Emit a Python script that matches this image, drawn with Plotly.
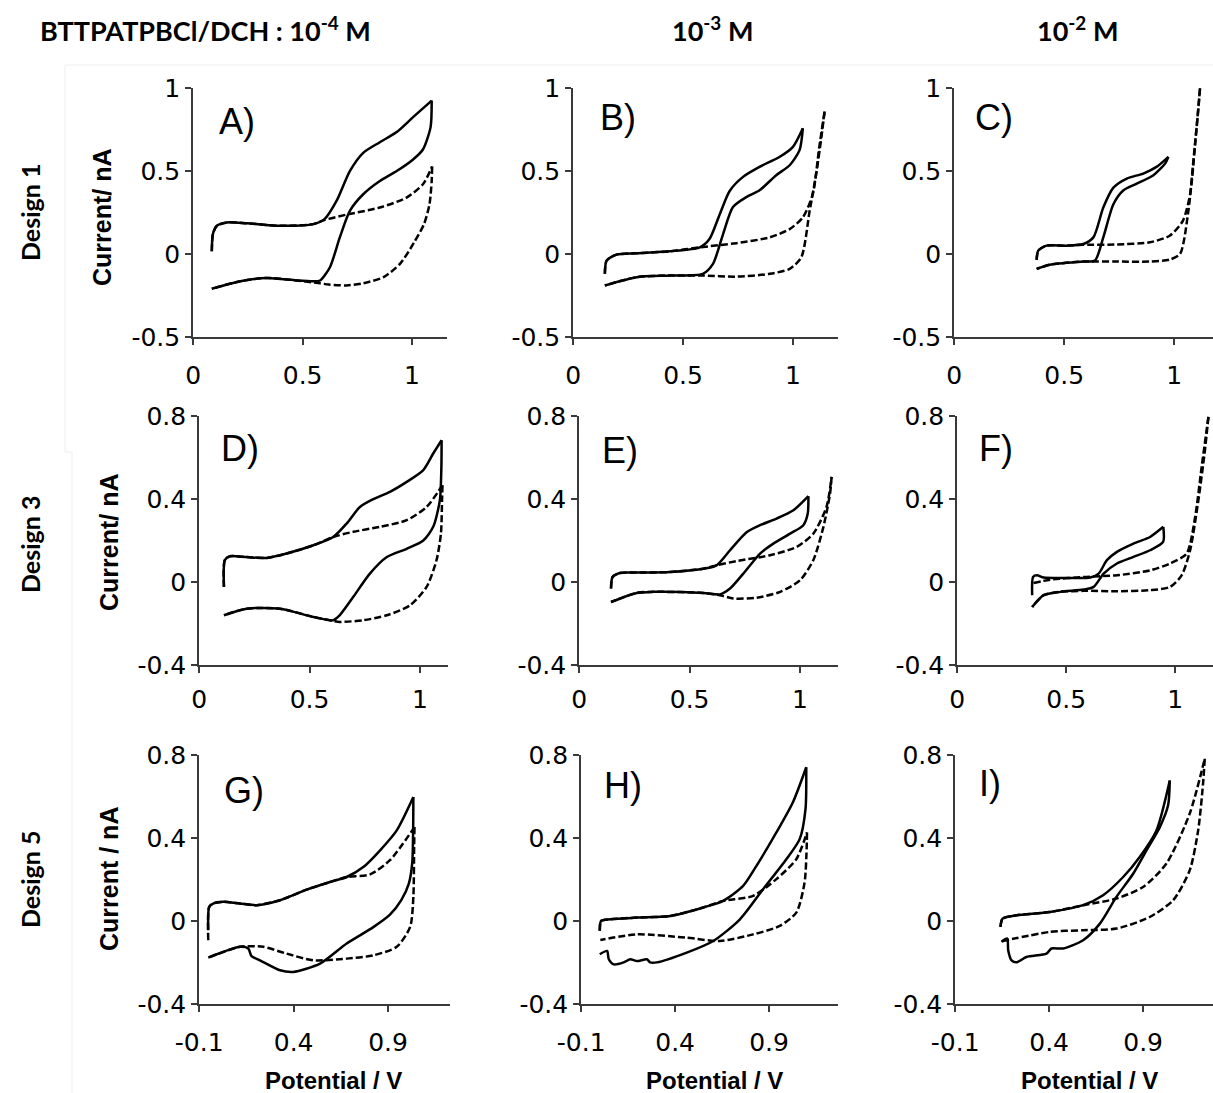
import plotly.graph_objects as go
import numpy as np

# ---------------- data ----------------
# Design 1, 1e-4 M
A_solid_x = [0.085, 0.09, 0.108, 0.154, 0.245, 0.397, 0.549, 0.60, 0.655, 0.716, 0.777, 0.853, 0.93, 1.005, 1.09,
             1.085, 1.05, 1.005, 0.93, 0.853, 0.777, 0.716, 0.67, 0.625, 0.58, 0.55, 0.473, 0.336, 0.215, 0.085]
A_solid_y = [0.016, 0.12, 0.17, 0.19, 0.185, 0.17, 0.18, 0.21, 0.32, 0.50, 0.61, 0.674, 0.735, 0.825, 0.925,
             0.765, 0.63, 0.57, 0.50, 0.44, 0.36, 0.26, 0.10, -0.08, -0.16, -0.165, -0.16, -0.145, -0.165, -0.21]
A_dash_x = [0.085, 0.09, 0.108, 0.154, 0.245, 0.397, 0.549, 0.60, 0.70, 0.853, 0.975, 1.05, 1.092,
            1.09, 1.08, 1.055, 1.01, 0.945, 0.87, 0.777, 0.70, 0.62, 0.58, 0.473, 0.336, 0.215, 0.085]
A_dash_y = [0.016, 0.12, 0.17, 0.19, 0.185, 0.17, 0.18, 0.205, 0.237, 0.28, 0.34, 0.42, 0.527,
            0.44, 0.30, 0.18, 0.07, -0.06, -0.14, -0.177, -0.19, -0.185, -0.177, -0.16, -0.145, -0.165, -0.21]

# Design 1, 1e-3 M
B_solid_x = [0.144, 0.152, 0.197, 0.288, 0.44, 0.576, 0.62, 0.667, 0.712, 0.773, 0.848, 0.94, 1.0, 1.045,
             1.03, 0.985, 0.924, 0.848, 0.788, 0.727, 0.682, 0.636, 0.59, 0.44, 0.288, 0.144]
B_solid_y = [-0.12, -0.04, -0.004, 0.004, 0.016, 0.04, 0.09, 0.24, 0.38, 0.465, 0.525, 0.586, 0.646, 0.758,
             0.626, 0.535, 0.475, 0.384, 0.343, 0.283, 0.12, -0.06, -0.12, -0.13, -0.14, -0.19]
B_dash_x = [0.144, 0.152, 0.197, 0.288, 0.44, 0.576, 0.742, 0.894, 0.985, 1.045, 1.09, 1.12, 1.144,
            1.13, 1.106, 1.076, 1.038, 0.985, 0.894, 0.742, 0.59, 0.44, 0.288, 0.144]
B_dash_y = [-0.12, -0.04, -0.004, 0.004, 0.016, 0.04, 0.065, 0.10, 0.15, 0.22, 0.36, 0.646, 0.86,
            0.71, 0.485, 0.26, -0.02, -0.09, -0.12, -0.137, -0.13, -0.13, -0.14, -0.19]

# Design 1, 1e-2 M
C_solid_x = [0.375, 0.382, 0.42, 0.51, 0.587, 0.633, 0.678, 0.724, 0.785, 0.86, 0.92, 0.974,
             0.959, 0.906, 0.83, 0.77, 0.724, 0.678, 0.64, 0.587, 0.435, 0.375]
C_solid_y = [-0.036, 0.02, 0.05, 0.05, 0.06, 0.10, 0.28, 0.40, 0.455, 0.485, 0.525, 0.586,
             0.545, 0.475, 0.424, 0.384, 0.30, 0.10, -0.04, -0.046, -0.065, -0.09]
C_dash_x = [0.375, 0.382, 0.42, 0.51, 0.587, 0.739, 0.89, 0.98, 1.04, 1.073, 1.096, 1.118,
            1.11, 1.088, 1.065, 1.027, 0.98, 0.89, 0.74, 0.617, 0.587, 0.435, 0.375]
C_dash_y = [-0.036, 0.02, 0.05, 0.05, 0.055, 0.057, 0.07, 0.11, 0.20, 0.36, 0.667, 1.0,
            0.87, 0.566, 0.26, 0.0, -0.034, -0.046, -0.046, -0.046, -0.046, -0.065, -0.09]

# Design 3, 1e-4 M
D_solid_x = [0.112, 0.116, 0.139, 0.215, 0.305, 0.396, 0.517, 0.607, 0.668, 0.728, 0.789, 0.864, 0.94, 1.015, 1.06, 1.098,
             1.097, 1.09, 1.06, 1.015, 0.94, 0.85, 0.773, 0.698, 0.637, 0.607, 0.517, 0.366, 0.215, 0.112]
D_solid_y = [-0.024, 0.105, 0.124, 0.12, 0.116, 0.137, 0.177, 0.217, 0.282, 0.362, 0.40, 0.435, 0.483, 0.54, 0.62, 0.684,
             0.555, 0.394, 0.266, 0.20, 0.16, 0.12, 0.04, -0.072, -0.16, -0.185, -0.169, -0.129, -0.129, -0.161]
D_dash_x = [0.112, 0.116, 0.139, 0.215, 0.305, 0.396, 0.517, 0.607, 0.698, 0.819, 0.94, 1.03, 1.102,
            1.10, 1.095, 1.075, 1.03, 0.955, 0.85, 0.743, 0.637, 0.607, 0.517, 0.366, 0.215, 0.112]
D_dash_y = [-0.024, 0.105, 0.124, 0.12, 0.116, 0.137, 0.177, 0.217, 0.242, 0.266, 0.298, 0.362, 0.467,
            0.394, 0.233, 0.105, -0.024, -0.113, -0.161, -0.185, -0.193, -0.188, -0.169, -0.129, -0.129, -0.161]

# Design 3, 1e-3 M
E_solid_x = [0.144, 0.151, 0.184, 0.26, 0.411, 0.562, 0.622, 0.683, 0.758, 0.819, 0.894, 0.97, 1.038,
             1.035, 1.015, 0.955, 0.879, 0.819, 0.743, 0.683, 0.637, 0.562, 0.335, 0.26, 0.144]
E_solid_y = [-0.032, 0.024, 0.043, 0.045, 0.048, 0.064, 0.08, 0.153, 0.24, 0.274, 0.306, 0.346, 0.414,
             0.33, 0.274, 0.233, 0.185, 0.137, 0.04, -0.032, -0.06, -0.053, -0.048, -0.053, -0.097]
E_dash_x = [0.144, 0.151, 0.184, 0.26, 0.411, 0.562, 0.622, 0.713, 0.864, 0.985, 1.06, 1.12, 1.143,
            1.136, 1.106, 1.06, 1.0, 0.91, 0.804, 0.698, 0.637, 0.562, 0.335, 0.26, 0.144]
E_dash_y = [-0.032, 0.024, 0.043, 0.045, 0.048, 0.064, 0.08, 0.101, 0.129, 0.169, 0.233, 0.362, 0.507,
            0.427, 0.266, 0.105, 0.008, -0.048, -0.076, -0.08, -0.064, -0.053, -0.048, -0.053, -0.097]

# Design 3, 1e-2 M
F_solid_x = [0.344, 0.348, 0.366, 0.397, 0.504, 0.611, 0.649, 0.687, 0.733, 0.809, 0.885, 0.946,
             0.945, 0.885, 0.809, 0.733, 0.672, 0.626, 0.58, 0.473, 0.397, 0.344]
F_solid_y = [-0.064, 0.024, 0.032, 0.021, 0.019, 0.021, 0.04, 0.105, 0.145, 0.185, 0.217, 0.266,
             0.193, 0.153, 0.121, 0.089, 0.04, -0.024, -0.037, -0.048, -0.064, -0.121]
F_dash_x = [0.35, 0.427, 0.58, 0.733, 0.885, 0.977, 1.053, 1.092, 1.122, 1.153,
            1.137, 1.107, 1.069, 1.03, 0.977, 0.885, 0.733, 0.58, 0.473, 0.397, 0.344]
F_dash_y = [-0.005, 0.011, 0.024, 0.032, 0.056, 0.089, 0.137, 0.314, 0.556, 0.797,
            0.636, 0.395, 0.153, 0.032, -0.024, -0.04, -0.045, -0.043, -0.048, -0.064, -0.121]

# Design 5, 1e-4 M
G_solid_x = [-0.052, -0.047, -0.026, 0.027, 0.116, 0.204, 0.328, 0.469, 0.593, 0.681, 0.769, 0.858, 0.946, 1.034,
             1.033, 1.028, 1.01, 0.97, 0.91, 0.822, 0.681, 0.54, 0.398, 0.328, 0.222, 0.177, 0.16, 0.116, -0.052]
G_solid_y = [-0.045, 0.068, 0.084, 0.092, 0.084, 0.076, 0.10, 0.151, 0.188, 0.212, 0.26, 0.341, 0.437, 0.598,
             0.45, 0.28, 0.18, 0.10, 0.03, -0.03, -0.109, -0.206, -0.246, -0.238, -0.19, -0.17, -0.133, -0.125, -0.177]
G_dash_x = [-0.052, -0.047, -0.026, 0.027, 0.116, 0.204, 0.328, 0.469, 0.593, 0.681, 0.805, 0.91, 1.04,
            1.038, 1.034, 1.017, 0.946, 0.822, 0.681, 0.504, 0.363, 0.24, 0.116, -0.052]
G_dash_y = [-0.093, 0.068, 0.084, 0.092, 0.084, 0.076, 0.10, 0.151, 0.188, 0.212, 0.225, 0.293, 0.453,
            0.357, 0.116, -0.029, -0.125, -0.166, -0.182, -0.19, -0.158, -0.125, -0.125, -0.177]

# Design 5, 1e-3 M
H_solid_x = [-0.001, 0.006, 0.055, 0.197, 0.374, 0.55, 0.656, 0.762, 0.833, 0.939, 1.027, 1.098,
             1.094, 1.063, 0.992, 0.868, 0.745, 0.603, 0.462, 0.303, 0.267, 0.25, 0.197, 0.161, 0.126, 0.073, 0.047, 0.038, -0.001]
H_solid_y = [-0.048, 0.0, 0.008, 0.016, 0.024, 0.065, 0.097, 0.169, 0.266, 0.427, 0.573, 0.742,
             0.54, 0.395, 0.298, 0.153, 0.008, -0.097, -0.153, -0.2, -0.2, -0.185, -0.194, -0.185, -0.2, -0.21, -0.185, -0.145, -0.161]
H_dash_x = [-0.001, 0.006, 0.055, 0.197, 0.374, 0.55, 0.656, 0.815, 0.939, 1.045, 1.102,
            1.10, 1.089, 1.045, 0.957, 0.815, 0.638, 0.462, 0.197, 0.002]
H_dash_y = [-0.048, 0.0, 0.008, 0.016, 0.024, 0.065, 0.097, 0.121, 0.202, 0.298, 0.427,
            0.347, 0.185, 0.04, -0.024, -0.065, -0.097, -0.081, -0.065, -0.092]

# Design 5, 1e-2 M
I_solid_x = [0.141, 0.152, 0.226, 0.404, 0.581, 0.687, 0.794, 0.882, 0.971, 1.042,
             1.033, 0.989, 0.918, 0.847, 0.758, 0.67, 0.581, 0.474, 0.412, 0.386, 0.279, 0.226, 0.2, 0.182, 0.177, 0.146]
I_solid_y = [-0.029, 0.011, 0.027, 0.043, 0.076, 0.124, 0.212, 0.309, 0.437, 0.678,
             0.558, 0.453, 0.341, 0.228, 0.116, -0.013, -0.093, -0.133, -0.133, -0.158, -0.174, -0.2, -0.19, -0.141, -0.085, -0.1]
I_dash_x = [0.141, 0.152, 0.226, 0.404, 0.581, 0.758, 0.9, 1.024, 1.148, 1.228,
            1.219, 1.193, 1.148, 1.06, 0.935, 0.758, 0.581, 0.404, 0.138]
I_dash_y = [-0.029, 0.011, 0.027, 0.043, 0.076, 0.108, 0.164, 0.277, 0.518, 0.783,
            0.662, 0.437, 0.244, 0.1, 0.019, -0.037, -0.045, -0.053, -0.1]

panel_labels = ["A)", "B)", "C)", "D)", "E)", "F)", "G)", "H)", "I)"]
row_labels = ["Design 1", "Design 3", "Design 5"]
col_titles = ["BTTPATPBCl/DCH : 10<sup>-4</sup> M", "10<sup>-3</sup> M", "10<sup>-2</sup> M"]
xtick_vals_top = [0, 0.5, 1]
xtick_text_top = ["0", "0.5", "1"]
xtick_vals_bot = [-0.1, 0.4, 0.9]
xtick_text_bot = ["-0.1", "0.4", "0.9"]
ytick_vals_r1 = [-0.5, 0, 0.5, 1]
ytick_text_r1 = ["-0.5", "0", "0.5", "1"]
ytick_vals_r23 = [-0.4, 0, 0.4, 0.8]
ytick_text_r23 = ["-0.4", "0", "0.4", "0.8"]
y_titles = ["Current/ nA", "Current/ nA", "Current / nA"]
x_title = "Potential / V"

# ---------------- layout geometry (pixels) ----------------
W, H = 1213, 1093
def fx(p): return p / W
def fy(p): return 1 - p / H

data = [
    (A_solid_x, A_solid_y, A_dash_x, A_dash_y), (B_solid_x, B_solid_y, B_dash_x, B_dash_y),
    (C_solid_x, C_solid_y, C_dash_x, C_dash_y), (D_solid_x, D_solid_y, D_dash_x, D_dash_y),
    (E_solid_x, E_solid_y, E_dash_x, E_dash_y), (F_solid_x, F_solid_y, F_dash_x, F_dash_y),
    (G_solid_x, G_solid_y, G_dash_x, G_dash_y), (H_solid_x, H_solid_y, H_dash_x, H_dash_y),
    (I_solid_x, I_solid_y, I_dash_x, I_dash_y),
]
col_px = [[(193, 447), (573, 838), (954, 1213)],
          [(199, 448), (579, 838), (957, 1213)],
          [(199, 450), (581, 838), (955, 1213)]]
xranges = [[(0, 1.16), (0, 1.205), (0, 1.177)],
           [(0, 1.127), (0, 1.172), (0, 1.174)],
           [(-0.1, 1.228), (-0.1, 1.267), (-0.1, 1.272)]]
row_px = [(88, 337), (416, 665), (755, 1004)]
yranges = [(-0.5, 1.0), (-0.4, 0.8), (-0.4, 0.8)]
standoff = [9, 5, 9]
label_px = [(217, 121), (598, 117), (973, 117), (219, 448), (600, 450), (977, 448), (222, 790), (602, 785), (977, 783)]

fig = go.Figure()
axis_color = "#3a3a3a"
tick_font = dict(family="DejaVu Sans", size=25, color="#000000")

for k in range(9):
    r, c = divmod(k, 3)
    n = k + 1
    xa = "x" if n == 1 else f"x{n}"
    ya = "y" if n == 1 else f"y{n}"
    sx, sy, dx, dy = data[k]
    for (xx, yy, dash) in [(dx, dy, "7px,3px"), (sx, sy, "solid")]:
        xx = np.array(xx); yy = np.array(yy)
        m = int(np.argmax(xx))
        for seg in (slice(0, m + 1), slice(m, len(xx))):
            fig.add_trace(go.Scatter(x=xx[seg], y=yy[seg], mode="lines", xaxis=xa, yaxis=ya,
                                     line=dict(color="black", width=2.5, dash=dash, shape="spline", smoothing=0.7),
                                     showlegend=False, hoverinfo="skip"))
    x0, x1 = col_px[r][c]
    y0, y1 = row_px[r]
    lo, hi = xranges[r][c]
    ylo, yhi = yranges[r]
    xsfx = "" if n == 1 else str(n)
    fig.update_layout(**{
        f"xaxis{xsfx}": dict(domain=[fx(x0), fx(x1)], range=[lo - 0.001, hi], anchor=ya, automargin=False,
                             tickvals=xtick_vals_bot if r == 2 else xtick_vals_top,
                             ticktext=xtick_text_bot if r == 2 else xtick_text_top,
                             showline=True, linecolor=axis_color, linewidth=1.6, ticks="outside", ticklen=6,
                             tickwidth=1.6, tickcolor=axis_color, tickfont=tick_font, showgrid=False,
                             zeroline=False, ticklabelstandoff=standoff[r], fixedrange=True),
        f"yaxis{xsfx}": dict(domain=[fy(y1), fy(y0)], range=[ylo - 0.001, yhi + 0.001], anchor=xa, automargin=False,
                             tickvals=ytick_vals_r1 if r == 0 else ytick_vals_r23,
                             ticktext=ytick_text_r1 if r == 0 else ytick_text_r23,
                             showline=True, linecolor=axis_color, linewidth=1.6, ticks="outside", ticklen=6,
                             tickwidth=1.6, tickcolor=axis_color, tickfont=tick_font, showgrid=False,
                             zeroline=False, fixedrange=True),
    })

ann = []
for k, lab in enumerate(panel_labels):
    px_, py_ = label_px[k]
    ann.append(dict(x=fx(px_), y=fy(py_), xref="paper", yref="paper", text=lab, showarrow=False,
                    xanchor="left", yanchor="middle", font=dict(family="Liberation Sans", size=36, color="black")))
for t, (px_, py_) in zip(y_titles, [(102, 217), (109, 542), (109, 879)]):
    ann.append(dict(x=fx(px_), y=fy(py_), xref="paper", yref="paper", text=t, showarrow=False,
                    textangle=-90, xanchor="center", yanchor="middle",
                    font=dict(family="Liberation Sans", size=25, color="black", weight="bold")))
for px_ in [333, 714, 1089]:
    ann.append(dict(x=fx(px_), y=fy(1080), xref="paper", yref="paper", text=x_title, showarrow=False,
                    xanchor="center", yanchor="middle",
                    font=dict(family="Liberation Sans", size=24, color="black", weight="bold")))
for lab, py_ in zip(row_labels, [213, 545, 880]):
    ann.append(dict(x=fx(30), y=fy(py_), xref="paper", yref="paper", text=lab, showarrow=False,
                    textangle=-90, xanchor="center", yanchor="middle",
                    font=dict(family="Lato", size=25, color="black", weight="bold")))
ann.append(dict(x=fx(38), y=fy(29), xref="paper", yref="paper", text=col_titles[0], showarrow=False,
                xanchor="left", yanchor="middle", font=dict(family="Lato", size=27, color="black", weight="bold")))
ann.append(dict(x=fx(712), y=fy(29), xref="paper", yref="paper", text=col_titles[1], showarrow=False,
                xanchor="center", yanchor="middle", font=dict(family="Lato", size=27, color="black", weight="bold")))
ann.append(dict(x=fx(1077), y=fy(29), xref="paper", yref="paper", text=col_titles[2], showarrow=False,
                xanchor="center", yanchor="middle", font=dict(family="Lato", size=27, color="black", weight="bold")))

shapes = [
    dict(type="line", xref="paper", yref="paper", x0=fx(65), x1=1, y0=fy(65), y1=fy(65), line=dict(color="#eeeeee", width=1)),
    dict(type="line", xref="paper", yref="paper", x0=fx(65), x1=fx(65), y0=fy(65), y1=fy(452), line=dict(color="#eeeeee", width=1)),
    dict(type="line", xref="paper", yref="paper", x0=fx(65), x1=fx(72), y0=fy(452), y1=fy(452), line=dict(color="#eeeeee", width=1)),
    dict(type="line", xref="paper", yref="paper", x0=fx(72), x1=fx(72), y0=fy(452), y1=0, line=dict(color="#eeeeee", width=1)),
]

fig.update_layout(template="none", width=W, height=H, autosize=False, margin=dict(l=0, r=0, t=0, b=0, pad=0),
                  paper_bgcolor="white", plot_bgcolor="white", annotations=ann, shapes=shapes,
                  showlegend=False)

fig.write_html("out.html", config={"displayModeBar": False},
               post_script="document.body.style.margin='0';document.body.style.overflow='hidden';")
